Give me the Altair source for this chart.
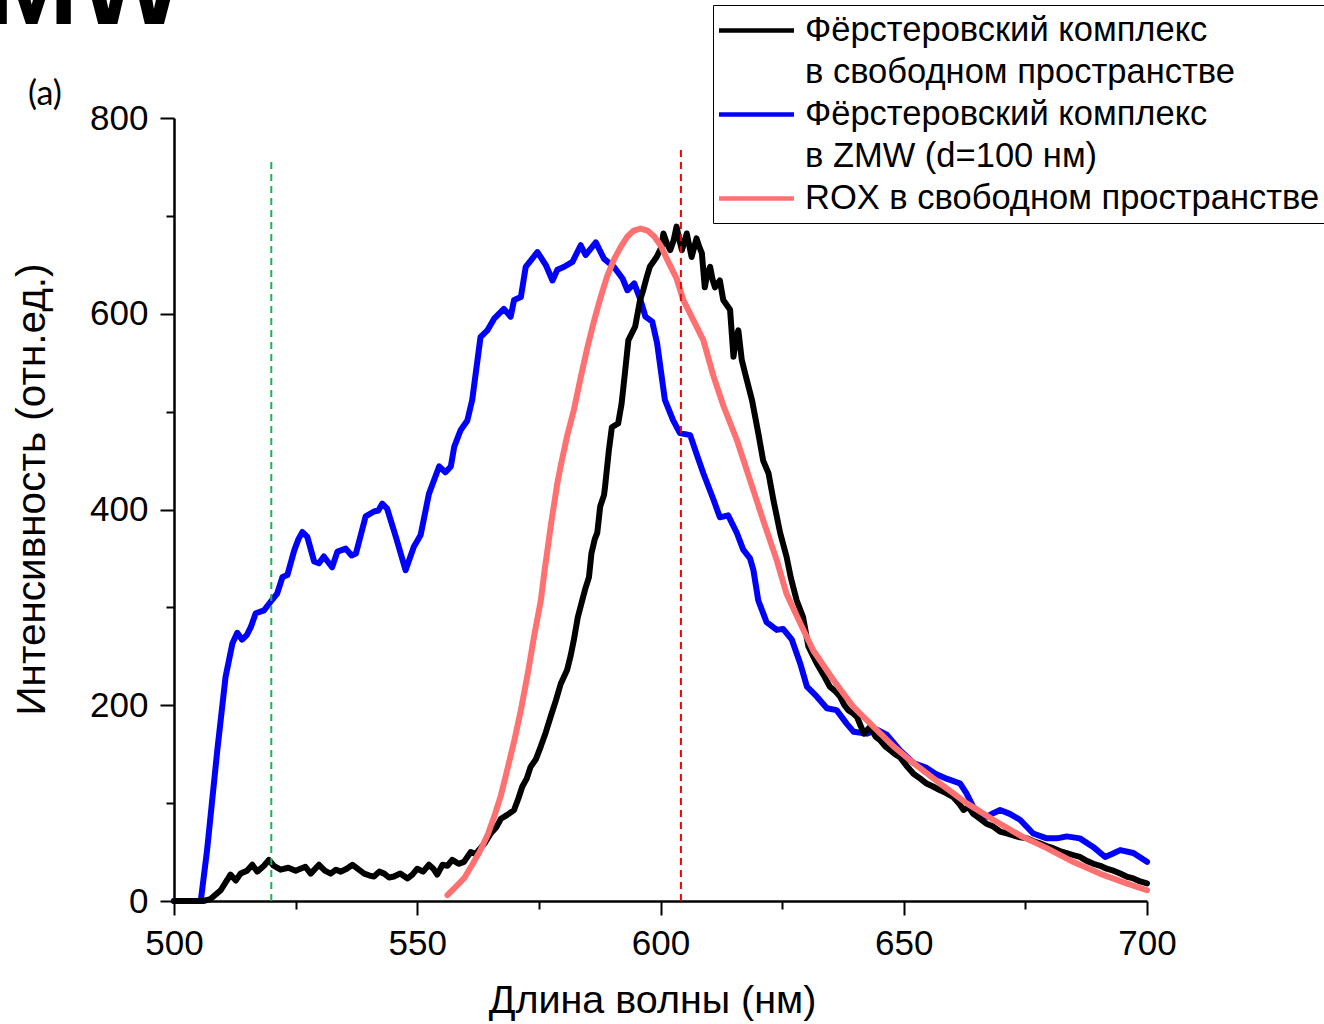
import altair as alt
import pandas as pd

# ---------------- data ----------------
black_wl = [500, 503, 506, 507.5, 509.6, 511.0, 511.6, 512.7, 513.7, 515.0, 516.1, 517.1, 518.5, 519.5,
            520.5, 521.9, 523.5, 525.0, 526.0, 527.0, 528.1, 529.8, 531.0, 532.2, 533.3, 534.3, 535.5,
            536.7, 538.0, 539.1, 540.2, 541.1, 542.2, 543.2, 544.2, 545.2, 546.5, 548.0, 549.0, 550.0,
            551.2, 552.4, 553.3, 554.1, 555.2, 556.2, 557.2, 558.5, 559.6, 561.0, 562.0, 563.0, 564.0,
            565.1, 566.2, 567.2, 568.5, 569.9, 570.8, 571.6, 572.5, 573.3, 574.4, 575.4, 576.4, 577.4,
            578.5, 579.5, 580.8, 581.5, 582.2, 583.0, 583.9, 584.6, 585.3, 585.8, 586.5, 587.0, 587.6,
            588.4, 588.6, 589.4, 590.0, 591.3, 592.0, 592.7, 593.4, 594.8, 595.8, 596.5, 597.2, 597.8,
            599.2, 600.2, 600.6, 601.3, 602.0, 602.7, 603.3, 603.9, 604.4, 605.4, 605.9, 606.4, 607.4,
            608.0, 608.5, 609.1, 609.6, 610.2, 610.7, 611.2, 612.2, 612.9, 614.3, 615.0, 615.5, 616.0,
            616.7, 617.4, 618.8, 620.1, 621.1, 622.2, 623.2, 624.6, 625.9, 626.8, 628.0, 629.3, 630.4,
            631.2, 632.1, 633.5, 634.8, 635.8, 636.9, 637.8, 638.6, 639.5, 640.4, 641.8, 643.1, 644.2,
            645.2, 646.2, 647.2, 648.2, 649.2, 650.6, 652.0, 653.4, 654.7, 656.0, 657.5, 658.8, 660.2,
            661.3, 662.3, 663.3, 664.3, 665.7, 667.0, 668.4, 669.8, 671.2, 672.5, 673.9, 675.3, 676.7,
            678.0, 679.4, 680.7, 682.1, 683.5, 684.8, 686.2, 687.6, 689.0, 690.4, 691.7, 693.1, 694.5,
            695.8, 697.2, 698.6, 700.0]
black_int = [0, 0, 0, 2, 11, 22, 27, 21, 28, 31, 37, 30, 36, 42,
             36, 32, 34, 31, 33, 35, 28, 37, 31, 28, 32, 30, 33,
             37, 32, 28, 26, 25, 30, 28, 24, 25, 28, 23, 27, 33,
             30, 37, 33, 27, 37, 36, 42, 38, 40, 50, 48, 54, 60,
             69, 75, 84, 88, 93, 105, 117, 125, 137, 145, 158, 172, 188,
             205, 222, 236, 250, 267, 290, 307, 320, 331, 355, 370, 376, 403,
             415, 423, 461, 484, 488, 508, 540, 573, 587, 614, 625, 638, 648,
             658, 668, 682, 672, 665, 675, 689, 675, 665, 682, 670, 658, 677,
             668, 662, 627, 640, 648, 635, 627, 634, 614, 604, 556, 575, 583,
             553, 539, 512, 478, 450, 437, 410, 376, 352, 330, 307, 290, 260,
             252, 243, 231, 219, 215, 209, 200, 195, 192, 188, 171, 178, 168,
             164, 158, 154, 150, 147, 138, 130, 125, 120, 117, 113, 110, 106,
             100, 93, 96, 89, 84, 79, 76, 71, 69, 67, 65, 64, 61,
             59, 56, 54, 51, 49, 47, 45, 41, 38, 36, 33, 31, 28,
             25, 23, 20, 18]

blue_wl = [500, 505.5, 506.8, 508.9, 510.6, 512.0, 513.0, 514.0, 515.0, 515.8, 516.8, 518.5, 519.9,
           521.2, 522.3, 523.3, 524.7, 525.6, 526.4, 527.4, 528.8, 529.8, 530.8, 532.5, 533.6, 535.3,
           536.5, 537.4, 539.4, 541.1, 542.0, 542.8, 543.8, 545.6, 547.6, 549.3, 550.7, 552.4, 554.5,
           555.8, 556.9, 557.6, 558.9, 560.3, 561.3, 563.0, 564.4, 565.8, 567.8, 569.2, 569.9, 571.3,
           572.3, 574.7, 576.4, 577.8, 578.8, 580.2, 581.9, 583.6, 584.6, 586.7, 588.4, 590.4, 592.2,
           593.2, 594.6, 595.9, 596.9, 598.3, 599.3, 600.9, 602.6, 604.0, 606.1, 607.4, 608.8, 610.9,
           612.2, 613.9, 615.7, 617.0, 618.4, 619.1, 620.1, 621.8, 623.9, 625.2, 627.0, 628.7, 630.1,
           632.1, 634.2, 636.2, 638.3, 639.7, 642.4, 644.5, 646.5, 649.2, 652.0, 654.7, 656.5, 658.8,
           661.6, 662.9, 664.3, 667.0, 668.5, 669.8, 671.8, 673.9, 676.6, 679.4, 681.5, 683.5, 686.2,
           689.0, 691.4, 692.8, 694.5, 697.2, 700.0]
blue_int = [0, 0, 52, 154, 229, 263, 274, 267, 272, 280, 294, 297, 306,
            314, 331, 333, 358, 370, 377, 372, 347, 345, 352, 341, 357, 360,
            353, 355, 393, 398, 399, 406, 401, 372, 338, 362, 374, 416, 444,
            438, 444, 464, 481, 491, 512, 576, 583, 595, 605, 597, 614, 617,
            648, 663, 650, 634, 645, 648, 653, 670, 660, 673, 656, 648, 636,
            624, 631, 614, 597, 592, 570, 512, 491, 478, 476, 457, 437, 410,
            392, 394, 376, 359, 350, 338, 307, 285, 277, 278, 267, 243, 219,
            209, 197, 195, 181, 173, 171, 175, 170, 154, 141, 136, 130, 125,
            120, 110, 96, 86, 90, 93, 89, 83, 69, 64, 64, 66, 64,
            55, 45, 48, 52, 49, 40]

rox_wl = [556.2, 558.0, 559.6, 561.3, 563.0, 564.5, 565.8, 567.2, 568.5, 570.0, 571.3, 572.7, 574.0,
          575.4, 576.1, 577.5, 578.8, 579.5, 580.8, 582.2, 583.6, 585.0, 586.3, 587.7, 589.0, 590.4,
          591.8, 593.2, 594.5, 595.9, 597.3, 598.7, 600.0, 601.4, 602.4, 603.3, 604.7, 606.8, 608.8,
          610.9, 613.0, 615.7, 618.4, 621.1, 623.9, 625.9, 628.7, 631.4, 635.5, 639.7, 643.8, 647.9,
          652.0, 657.5, 662.9, 668.4, 673.9, 679.4, 684.8, 690.3, 695.8, 700.0]
rox_int = [6, 15, 23, 37, 52, 68, 86, 108, 134, 165, 195, 232, 270,
           307, 335, 385, 427, 445, 475, 502, 535, 566, 592, 617, 638, 655,
           668, 679, 685, 687, 685, 679, 670, 655, 645, 636, 614, 593, 573,
           536, 505, 471, 430, 389, 348, 314, 284, 256, 226, 198, 178, 158,
           141, 120, 100, 83, 67, 54, 40, 28, 18, 11]

series_keys = ["k1", "k1b", "k2", "k2b", "k3"]
series_labels = ["Фёрстеровский комплекс", "в свободном пространстве",
                 "Фёрстеровский комплекс", "в ZMW (d=100 нм)", "ROX в свободном пространстве"]
series_colors = ["#000000", "transparent", "#0000ff", "transparent", "#ff7070"]

x_major = [500, 550, 600, 650, 700]
x_minor = [525, 575, 625, 675]
y_major = [0, 200, 400, 600, 800]
y_minor = [100, 300, 500, 700]

green_x, green_top = 520, 759
red_x, red_top = 604.2, 769

FONT = "Liberation Sans"

# ---------------- build ----------------
black_df = pd.DataFrame({"wl": black_wl, "I": black_int, "series": "k1"})
blue_df = pd.DataFrame({"wl": blue_wl, "I": blue_int, "series": "k2"})
rox_df = pd.DataFrame({"wl": rox_wl, "I": rox_int, "series": "k3"})

label_expr = " : ".join(
    f"datum.value == '{k}' ? '{l}'" for k, l in zip(series_keys, series_labels)
) + " : ''"

color_scale = alt.Scale(domain=series_keys, range=series_colors)

x_scale = alt.Scale(domain=[500, 700], nice=False, zero=False)
y_scale = alt.Scale(domain=[0, 800], nice=False)

x_axis_major = alt.Axis(values=x_major, tickSize=14, tickWidth=2, domainWidth=2.5, domainColor="black",
                        tickColor="black", labelFont=FONT, labelFontSize=35, labelColor="black",
                        labelPadding=11, labelFlush=False, grid=False, orient="bottom",
                        title="Длина волны (нм)", titleFont=FONT, titleFontSize=39.5,
                        titleFontWeight="normal", titleColor="black",
                        titleX=478, titleY=111, titleBaseline="alphabetic")
y_axis_major = alt.Axis(values=y_major, tickSize=14, tickWidth=2, domainWidth=2.5, domainColor="black",
                        tickColor="black", labelFont=FONT, labelFontSize=35, labelColor="black",
                        labelPadding=12, labelFlush=False, grid=False, orient="left",
                        title="Интенсивность (отн.ед.)", titleFont=FONT, titleFontSize=40.5,
                        titleFontWeight="normal", titleColor="black",
                        titleX=-142, titleY=371, titleAngle=270, titleBaseline="middle",
                        titleAlign="center")

legend = alt.Legend(
    title=None, orient="none", legendX=539, legendY=-113, labelExpr=label_expr,
    labelFont=FONT, labelFontSize=34.5, labelColor="black", labelLimit=1000,
    symbolType="M-1.3,0H3.7", symbolSize=900, symbolStrokeWidth=4.5, labelOffset=49,
    rowPadding=7, padding=8, strokeColor="black", fillColor="white")


def line_layer(df, with_axes):
    return alt.Chart(df).mark_line(strokeWidth=6, strokeJoin="round", strokeCap="round").encode(
        x=alt.X("wl:Q", scale=x_scale, axis=x_axis_major if with_axes else None),
        y=alt.Y("I:Q", scale=y_scale, axis=y_axis_major if with_axes else None),
        color=alt.Color("series:N", scale=color_scale, legend=legend),
    )


minor_df = pd.DataFrame({"wl": [500, 700], "I": [0, 800]})
minor_axes = alt.Chart(minor_df).mark_point(opacity=0).encode(
    x=alt.X("wl:Q", scale=x_scale, axis=alt.Axis(values=x_minor, tickSize=8, tickWidth=2, tickColor="black",
                                                 labels=False, domain=False, grid=False, title=None,
                                                 orient="bottom")),
    y=alt.Y("I:Q", scale=y_scale, axis=alt.Axis(values=y_minor, tickSize=8, tickWidth=2, tickColor="black",
                                                labels=False, domain=False, grid=False, title=None,
                                                orient="left")),
)

green_df = pd.DataFrame({"wl": [green_x], "top": [green_top], "bottom": [0]})
red_df = pd.DataFrame({"wl": [red_x], "top": [red_top], "bottom": [0]})

green_rule = alt.Chart(green_df).mark_rule(color="#1fb25a", strokeWidth=2, strokeDash=[7, 5]).encode(
    x=alt.X("wl:Q", scale=x_scale, axis=None), y=alt.Y("bottom:Q", scale=y_scale, axis=None), y2="top:Q")
red_rule = alt.Chart(red_df).mark_rule(color="#ff0000", strokeWidth=2, strokeDash=[7, 5]).encode(
    x=alt.X("wl:Q", scale=x_scale, axis=None), y=alt.Y("bottom:Q", scale=y_scale, axis=None), y2="top:Q")

panel_df = pd.DataFrame({"t": ["(a)"]})
panel_text = alt.Chart(panel_df).mark_text(font="Lato", fontSize=34, color="black", align="center",
                                           baseline="alphabetic").encode(
    text="t:N", x=alt.value(-129), y=alt.value(-13))

head_df = pd.DataFrame({"t": ["ZMW"]})
head_text = alt.Chart(head_df).mark_text(font=FONT, fontSize=112, fontWeight="bold", color="black",
                                         align="right", baseline="alphabetic").encode(
    text="t:N", x=alt.value(10), y=alt.value(-94))

chart = alt.layer(
    line_layer(blue_df, True), line_layer(black_df, False), line_layer(rox_df, False),
    green_rule, red_rule, minor_axes, panel_text, head_text,
).resolve_axis(x="independent", y="independent").properties(
    width=973, height=783,
    autosize=alt.AutoSizeParams(type="none"),
    padding={"left": 174, "top": 118, "right": 177, "bottom": 123},
    background="white",
).configure_view(stroke="transparent")

chart.save("out.html", embed_options={"renderer": "svg", "actions": False})
